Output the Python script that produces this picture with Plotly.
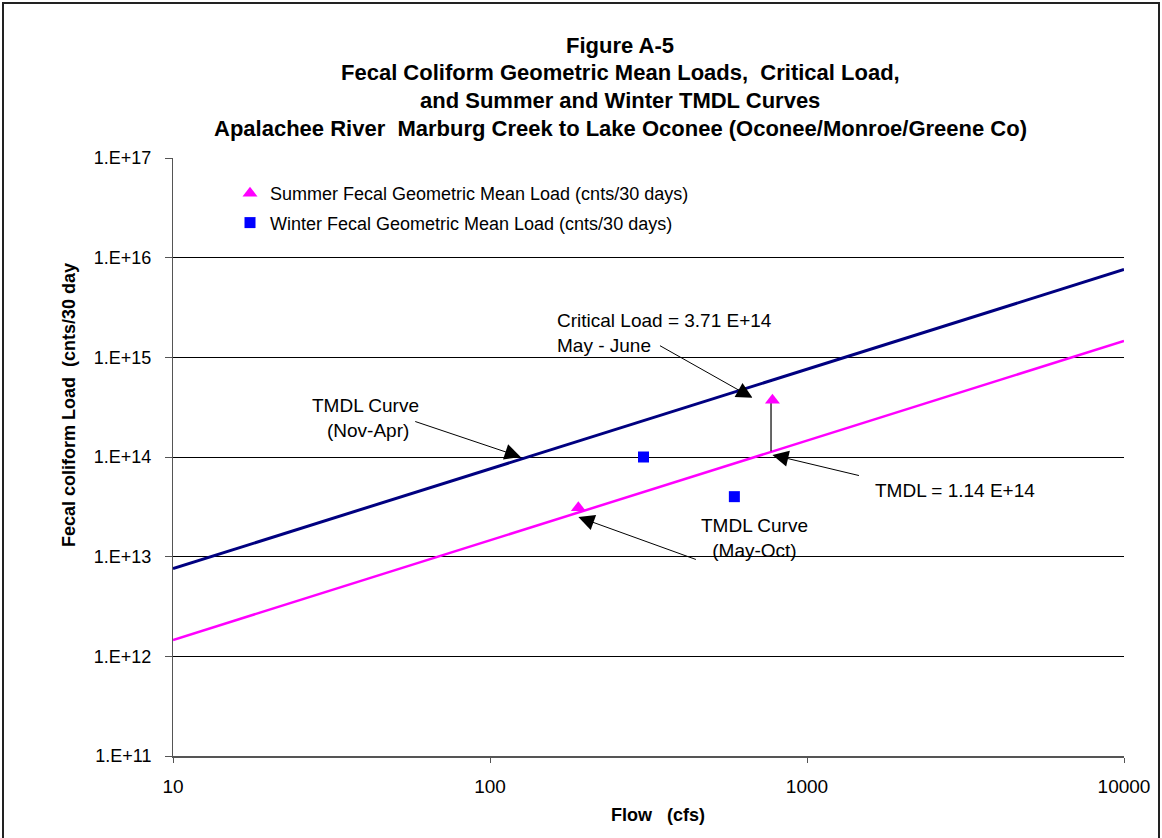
import plotly.graph_objects as go
import math

# ---- data ----
curve_flow = [10, 10000]
winter_tmdl_load = [7.6e12, 7.6e15]     # TMDL Curve (Nov-Apr)
summer_tmdl_load = [1.46e12, 1.46e15]   # TMDL Curve (May-Oct)

summer_flow = [190, 778]
summer_load = [3.1e13, 3.71e14]

winter_flow = [305, 590]
winter_load = [1.0e14, 4.0e13]

crit_flow = [770, 770]
crit_load = [1.14e14, 3.71e14]

y_tickvals = [1e11, 1e12, 1e13, 1e14, 1e15, 1e16, 1e17]
y_ticktext = ["1.E+11", "1.E+12", "1.E+13", "1.E+14", "1.E+15", "1.E+16", "1.E+17"]
x_tickvals = [10, 100, 1000, 10000]
x_ticktext = ["10", "100", "1000", "10000"]

title_lines = [
    "Figure A-5",
    "Fecal Coliform Geometric Mean Loads,  Critical Load,",
    "and Summer and Winter TMDL Curves",
    "Apalachee River  Marburg Creek to Lake Oconee (Oconee/Monroe/Greene Co)",
]

# ---- layout geometry ----
W, H = 1162, 838
ML, MR, MT, MB = 173, 38, 158, 82
PW, PH = W - ML - MR, H - MT - MB


def px(x):
    return (x - ML) / PW


def py(y):
    return (H - MB - y) / PH


FONT = "Liberation Sans, Arial, sans-serif"

fig = go.Figure()
fig.add_trace(go.Scatter(x=curve_flow, y=winter_tmdl_load, mode="lines",
                         line=dict(color="#000080", width=3), showlegend=False,
                         hoverinfo="skip"))
fig.add_trace(go.Scatter(x=curve_flow, y=summer_tmdl_load, mode="lines",
                         line=dict(color="#FF00FF", width=2.5), showlegend=False,
                         hoverinfo="skip"))
fig.add_trace(go.Scatter(x=crit_flow, y=crit_load, mode="lines",
                         line=dict(color="black", width=1.2), showlegend=False,
                         hoverinfo="skip"))
fig.add_trace(go.Scatter(x=summer_flow, y=summer_load, mode="markers",
                         name="Summer Fecal Geometric Mean Load (cnts/30 days)",
                         legendgroup="s",
                         marker=dict(symbol="triangle-up", color="#FF00FF", size=13,
                                     line=dict(width=0))))
fig.add_trace(go.Scatter(x=winter_flow, y=winter_load, mode="markers",
                         name="Winter Fecal Geometric Mean Load (cnts/30 days)",
                         legendgroup="w",
                         marker=dict(symbol="square", color="#0000FF", size=11,
                                     line=dict(width=0))))

annotations = []
# title lines
for i, t in enumerate(title_lines):
    annotations.append(dict(text="<b>%s</b>" % t, xref="paper", yref="paper",
                            x=px(620), y=py(45 + 28 * i), showarrow=False,
                            xanchor="center", yanchor="middle",
                            font=dict(family=FONT, size=22, color="black")))
# axis titles
annotations.append(dict(text="<b>Flow   (cfs)</b>", xref="paper", yref="paper",
                        x=px(658), y=py(815), showarrow=False, xanchor="center",
                        yanchor="middle", font=dict(family=FONT, size=18, color="black")))
annotations.append(dict(text="<b>Fecal coliform Load  (cnts/30 day</b>", xref="paper",
                        yref="paper", x=px(69), y=py(405), showarrow=False,
                        textangle=-90, xanchor="center", yanchor="middle",
                        font=dict(family=FONT, size=18, color="black")))


def arrow(tip_flow, tip_load, ax, ay):
    annotations.append(dict(text="", x=math.log10(tip_flow), y=math.log10(tip_load),
                            xref="x", yref="y", ax=ax, ay=ay, showarrow=True,
                            arrowhead=2, arrowsize=3.2, arrowwidth=1, arrowcolor="black",
                            standoff=0, startstandoff=0))


def label(text, x, y, anchor="center"):
    annotations.append(dict(text=text, xref="paper", yref="paper", x=px(x), y=py(y),
                            showarrow=False, xanchor=anchor, yanchor="middle",
                            align="left" if anchor == "left" else "center",
                            font=dict(family=FONT, size=19, color="black")))


arrow(673, 3.92e14, -94, -53)
arrow(125, 1.0e14, -107, -36)
arrow(778, 1.05e14, 88, 21)
arrow(190, 2.5e13, 119, 43)

label("Critical Load = 3.71 E+14<br>May - June", 555, 333, "left")
label("TMDL Curve<br> (Nov-Apr)", 365, 418)
label("TMDL = 1.14 E+14", 873, 490, "left")
label("TMDL Curve<br>(May-Oct)", 754, 538)

fig.update_layout(
    width=W, height=H,
    margin=dict(l=ML, r=MR, t=MT, b=MB),
    paper_bgcolor="white", plot_bgcolor="white",
    font=dict(family=FONT, size=16, color="black"),
    annotations=annotations,
    showlegend=True,
    legend=dict(x=px(230), y=py(175), xanchor="left", yanchor="top",
                bgcolor="rgba(0,0,0,0)", font=dict(family=FONT, size=18, color="black"),
                itemwidth=30, tracegroupgap=3, traceorder="grouped"),
    shapes=[dict(type="rect", xref="paper", yref="paper",
                 x0=px(3), x1=px(1159), y0=py(850), y1=py(3),
                 line=dict(color="#222222", width=2), layer="below")],
)
fig.update_xaxes(type="log", range=[1, 4], tickvals=x_tickvals, ticktext=x_ticktext,
                 showgrid=False, zeroline=False, showline=True, linecolor="#555555",
                 linewidth=2, ticks="outside", ticklen=5, tickcolor="#555555",
                 ticklabelstandoff=7,
                 tickfont=dict(family=FONT, size=19, color="black"))
fig.update_yaxes(type="log", range=[11, 17], tickvals=y_tickvals, ticktext=y_ticktext,
                 showgrid=True, gridcolor="black", gridwidth=1, zeroline=False,
                 showline=True, linecolor="#555555", linewidth=1, ticks="outside",
                 ticklen=7, tickcolor="#555555", ticklabelstandoff=10,
                 tickfont=dict(family=FONT, size=18, color="black"))

fig.write_html("out.html")
